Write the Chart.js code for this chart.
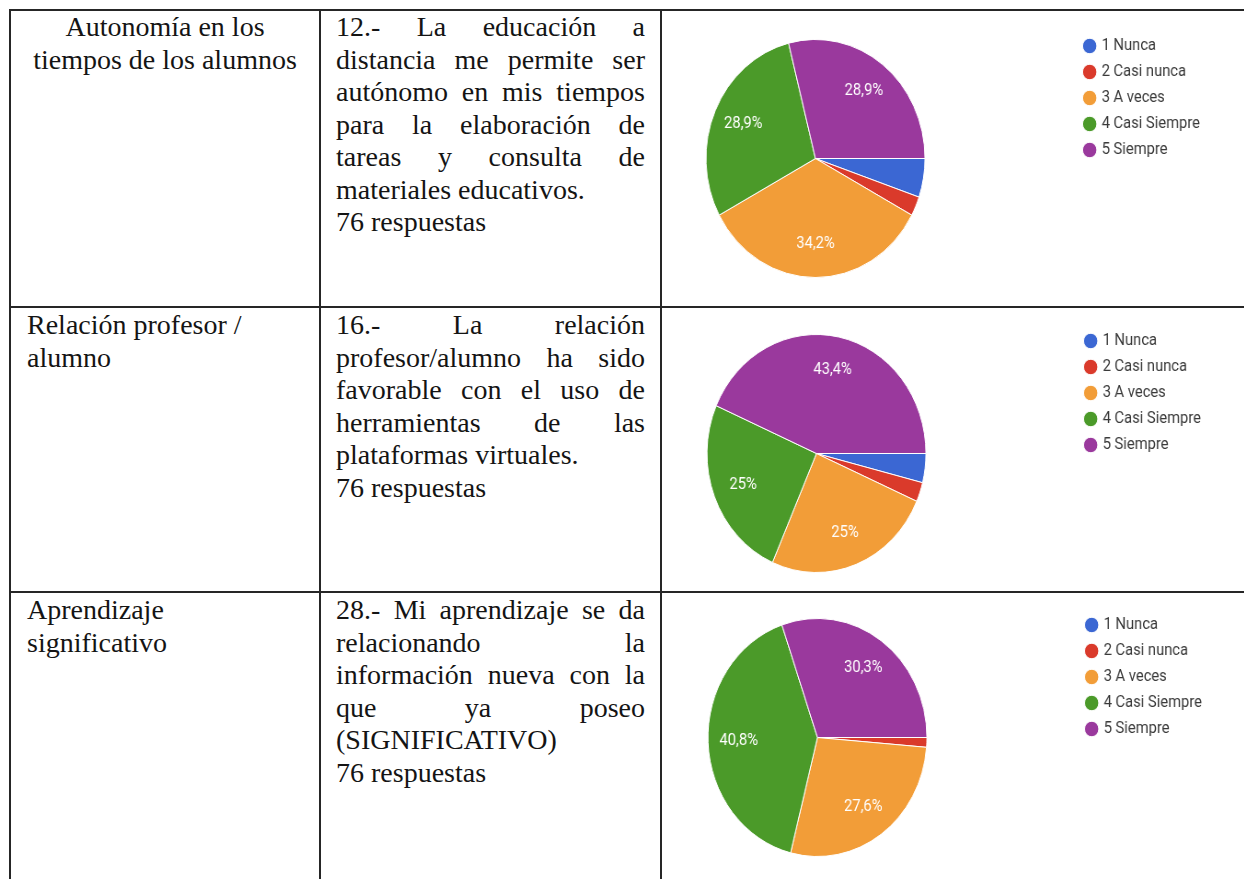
<!DOCTYPE html>
<html>
<head>
<meta charset="utf-8">
<script src="https://cdn.jsdelivr.net/npm/chart.js@4/dist/chart.umd.min.js"></script>
<style>
  html, body { margin: 0; padding: 0; background: #fff; }
  body { position: relative; width: 1244px; height: 879px; overflow: hidden; }
  .hl { position: absolute; height: 2px; background: #262626; }
  .vl { position: absolute; width: 2px; background: #262626; }
  .cell {
    position: absolute;
    font-family: "Liberation Serif", "Times New Roman", serif;
    font-size: 28px;
    line-height: 32.5px;
    color: #141414;
  }
  .j { text-align: justify; text-align-last: justify; }
  .c { text-align: center; }
  .pie {
    position: absolute;
    transform: scaleX(0.92);
    transform-origin: 0 0;
    filter: blur(0.45px);
  }
</style>
</head>
<body>

<!-- table grid -->
<div class="hl" style="left:10px; top:9px;   width:1240px;"></div>
<div class="hl" style="left:10px; top:306px; width:1240px;"></div>
<div class="hl" style="left:10px; top:591px; width:1240px;"></div>
<div class="vl" style="left:9px;   top:9px; height:880px;"></div>
<div class="vl" style="left:319px; top:9px; height:880px;"></div>
<div class="vl" style="left:660px; top:9px; height:880px;"></div>

<!-- row 1 -->
<div class="cell c" style="left:12px; top:11px; width:306px;">
  <div>Autonomía en los</div>
  <div>tiempos de los alumnos</div>
</div>
<div class="cell" style="left:336px; top:11px; width:309px;">
  <div class="j">12.- La educación a</div>
  <div class="j">distancia me permite ser</div>
  <div class="j">autónomo en mis tiempos</div>
  <div class="j">para la elaboración de</div>
  <div class="j">tareas y consulta de</div>
  <div>materiales educativos.</div>
  <div>76 respuestas</div>
</div>

<!-- row 2 -->
<div class="cell" style="left:27px; top:309px; width:290px;">
  <div>Relación profesor /</div>
  <div>alumno</div>
</div>
<div class="cell" style="left:336px; top:309px; width:309px;">
  <div class="j">16.- La relación</div>
  <div class="j">profesor/alumno ha sido</div>
  <div class="j">favorable con el uso de</div>
  <div class="j">herramientas de las</div>
  <div>plataformas virtuales.</div>
  <div>76 respuestas</div>
</div>

<!-- row 3 -->
<div class="cell" style="left:27px; top:594px; width:290px;">
  <div>Aprendizaje</div>
  <div>significativo</div>
</div>
<div class="cell" style="left:336px; top:594px; width:309px;">
  <div class="j">28.- Mi aprendizaje se da</div>
  <div class="j">relacionando la</div>
  <div class="j">información nueva con la</div>
  <div class="j">que ya poseo</div>
  <div>(SIGNIFICATIVO)</div>
  <div>76 respuestas</div>
</div>

<canvas id="pie12" class="pie" height="295" style="left:554.5px; top:11px;"></canvas>
<canvas id="pie16" class="pie" height="295" style="left:555.5px; top:306px;"></canvas>
<canvas id="pie28" class="pie" height="295" style="left:556.5px; top:590px;"></canvas>

<script>
// Answer options shared by the three questions
const categories = ['1 Nunca', '2 Casi nunca', '3 A veces', '4 Casi Siempre', '5 Siempre'];

// Number of answers per option (76 respuestas each)
const respuestas12 = [4, 2, 26, 22, 22];
const respuestas16 = [3, 2, 19, 19, 33];
const respuestas28 = [0, 1, 21, 31, 23];

const sliceColors = ['#3b67d3', '#da3a2b', '#f29d38', '#4b9a29', '#9a399d'];

const legendFont = { family: 'Roboto, Arial, sans-serif', size: 16 };
const legendPadding = 10;
const legendBox = 10;
const pieAreaWidth = 564;   // width of the area the pie is centred in
const rightPad = 8;

// Percentage text inside the larger slices
const sliceLabels = {
  id: 'sliceLabels',
  afterDatasetsDraw(chart) {
    const ctx = chart.ctx;
    const meta = chart.getDatasetMeta(0);
    const data = chart.data.datasets[0].data;
    const total = data.reduce((a, b) => a + b, 0);
    ctx.save();
    ctx.font = '16px Roboto, Arial, sans-serif';
    ctx.fillStyle = '#ffffff';
    ctx.textAlign = 'center';
    ctx.textBaseline = 'middle';
    meta.data.forEach((arc, i) => {
      const pct = data[i] / total * 100;
      if (pct < 10) return;
      const p = arc.getProps(['x', 'y', 'startAngle', 'endAngle', 'outerRadius'], true);
      const mid = (p.startAngle + p.endAngle) / 2;
      const r = p.outerRadius * 0.72;
      const txt = (Math.round(pct * 10) / 10).toString().replace('.', ',') + '%';
      ctx.fillText(txt, p.x + Math.cos(mid) * r, p.y + Math.sin(mid) * r);
    });
    ctx.restore();
  }
};

// Width the legend will take, so the canvas can hold it completely
function legendWidth() {
  const c = document.createElement('canvas').getContext('2d');
  c.font = 'normal ' + legendFont.size + 'px ' + legendFont.family;
  const tw = Math.max(...categories.map(t => c.measureText(t).width));
  return legendPadding + legendBox + legendFont.size / 2 + tw + 10;
}

function drawPie(id, values) {
  const canvas = document.getElementById(id);
  canvas.width = Math.ceil(pieAreaWidth + legendWidth() + rightPad + 2);
  new Chart(canvas, {
    type: 'pie',
    data: {
      labels: categories,
      datasets: [{
        data: values,
        backgroundColor: sliceColors,
        borderColor: '#ffffff',
        borderWidth: 1
      }]
    },
    options: {
      responsive: false,
      animation: false,
      events: [],
      rotation: 90,
      radius: 119,
      layout: { padding: { left: 0, top: 17, bottom: 17, right: rightPad } },
      plugins: {
        legend: {
          position: 'right',
          align: 'start',
          labels: {
            usePointStyle: true,
            pointStyle: 'circle',
            boxWidth: legendBox,
            boxHeight: 11,
            padding: legendPadding,
            color: '#3a3a3a',
            font: legendFont
          }
        },
        tooltip: { enabled: false }
      }
    },
    plugins: [sliceLabels]
  });
}

drawPie('pie12', respuestas12);
drawPie('pie16', respuestas16);
drawPie('pie28', respuestas28);
</script>
</body>
</html>
